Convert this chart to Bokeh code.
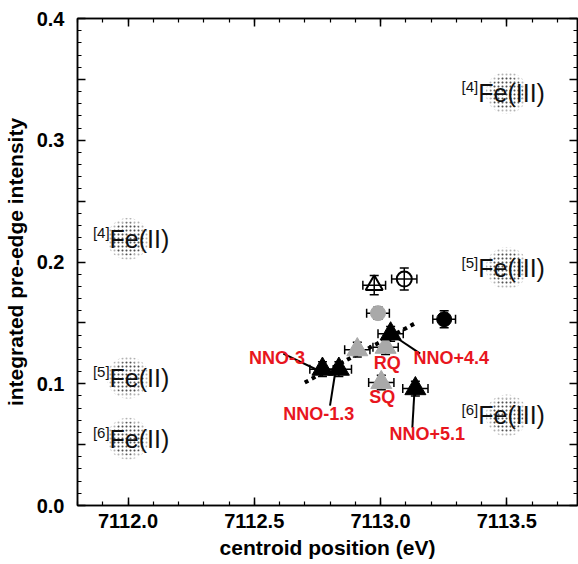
from bokeh.plotting import figure
from bokeh.models import (Range1d, LinearAxis, SingleIntervalTicker, Whisker,
                          ColumnDataSource, TeeHead, CustomJSTickFormatter)
from bokeh.core.properties import value
from bokeh.embed import file_html
from bokeh.resources import INLINE

# ---------------- data ----------------
# black filled triangles: oxidation series
tri_black_x = [7112.77, 7112.835, 7113.04, 7113.138]
tri_black_y = [0.112, 0.112, 0.141, 0.096]
tri_black_xerr = [0.05, 0.05, 0.05, 0.05]
tri_black_yerr = [0.006, 0.006, 0.006, 0.006]

# grey filled triangles
tri_gray_x = [7112.908, 7113.02, 7113.003]
tri_gray_y = [0.128, 0.130, 0.101]
tri_gray_xerr = [0.05, 0.05, 0.05]
tri_gray_yerr = [0.006, 0.006, 0.006]

# open triangle
tri_open_x = [7112.975]
tri_open_y = [0.181]
tri_open_xerr = [0.045]
tri_open_yerr = [0.008]

# open circle
circ_open_x = [7113.094]
circ_open_y = [0.186]
circ_open_xerr = [0.05]
circ_open_yerr = [0.009]

# grey circle
circ_gray_x = [7112.99]
circ_gray_y = [0.158]
circ_gray_xerr = [0.045]
circ_gray_yerr = [0.005]

# black circle
circ_black_x = [7113.252]
circ_black_y = [0.153]
circ_black_xerr = [0.045]
circ_black_yerr = [0.007]

# trend line through the oxidation series
trend_x = [7112.70, 7113.14]
trend_y = [0.101, 0.150]

# sample labels and leader lines
lab_text = ["NNO-3", "NNO-1.3", "RQ", "SQ", "NNO+4.4", "NNO+5.1"]
lab_x = [7112.59, 7112.755, 7113.027, 7113.007, 7113.28, 7113.185]
lab_y = [0.121, 0.0755, 0.117, 0.089, 0.121, 0.059]
lead_x0 = [7112.615, 7112.80, 7113.05, 7113.126]
lead_y0 = [0.1248, 0.0821, 0.1396, 0.064]
lead_x1 = [7112.754, 7112.82, 7113.157, 7113.134]
lead_y1 = [0.1109, 0.1084, 0.1248, 0.0928]

# reference Fe coordination / valence fields
ref_x = [7112.0, 7112.0, 7112.0, 7113.5, 7113.5, 7113.5]
ref_y = [0.219, 0.105, 0.055, 0.339, 0.195, 0.074]
ref_coord = ["[4]", "[5]", "[6]", "[4]", "[5]", "[6]"]
ref_name = ["Fe(II)", "Fe(II)", "Fe(II)", "Fe(III)", "Fe(III)", "Fe(III)"]
ref_text_x = [7111.927, 7111.927, 7111.927, 7113.387, 7113.387, 7113.387]

x_ticks_major = 0.5
y_ticks_major = 0.05

FONT = "Liberation Sans"
RED = "#e8161e"
GRAY = "#a9a9a9"

p = figure(width=578, height=564,
           x_range=Range1d(7111.8, 7113.78), y_range=Range1d(0.0, 0.4),
           output_backend="svg", toolbar_location=None,
           min_border_left=77, min_border_right=1, min_border_top=18,
           min_border_bottom=59)
p.background_fill_color = "white"
p.border_fill_color = "white"
p.outline_line_color = "black"
p.outline_line_width = 1.5
p.xgrid.visible = False
p.ygrid.visible = False


def style_axis(ax, labels=True):
    ax.axis_line_width = 1.5
    ax.major_tick_line_width = 1.5
    ax.minor_tick_line_width = 1.2
    ax.major_tick_in = 8
    ax.major_tick_out = 0
    ax.minor_tick_in = 4
    ax.minor_tick_out = 0
    ax.major_label_text_font = FONT
    ax.major_label_text_font_style = "bold"
    ax.major_label_text_color = "black"
    ax.major_label_text_font_size = "20px" if labels else "0px"


xt = SingleIntervalTicker(interval=x_ticks_major, num_minor_ticks=5)
yt = SingleIntervalTicker(interval=y_ticks_major, num_minor_ticks=5)
yfmt = CustomJSTickFormatter(code="""
const k = tick * 10;
return Math.abs(k - Math.round(k)) < 1e-6 ? tick.toFixed(1) : "";
""")
xfmt = CustomJSTickFormatter(code="return tick.toFixed(1);")
blank = CustomJSTickFormatter(code="return '';")

p.xaxis.ticker = xt
p.yaxis.ticker = yt
p.xaxis.formatter = xfmt
p.yaxis.formatter = yfmt
for ax in p.xaxis + p.yaxis:
    style_axis(ax)
p.xaxis.major_label_standoff = 8
p.yaxis.major_label_standoff = 13
p.xaxis.axis_label = "centroid position (eV)"
p.yaxis.axis_label = "integrated pre-edge intensity"
for ax in p.xaxis + p.yaxis:
    ax.axis_label_text_font = FONT
    ax.axis_label_text_font_style = "bold"
    ax.axis_label_text_font_size = "21px"
    ax.axis_label_text_color = "black"
p.xaxis.axis_label_standoff = 5
p.yaxis.axis_label_standoff = 7

top = LinearAxis(ticker=SingleIntervalTicker(interval=x_ticks_major, num_minor_ticks=5),
                 formatter=blank, major_label_standoff=0)
style_axis(top, labels=False)
p.add_layout(top, "above")
right = LinearAxis(ticker=SingleIntervalTicker(interval=y_ticks_major, num_minor_ticks=5),
                   formatter=blank, major_label_standoff=0)
style_axis(right, labels=False)
p.add_layout(right, "right")

# stippled reference fields (soft outer halo + denser core)
p.scatter(ref_x, ref_y, marker="circle", size=42, fill_alpha=0, line_alpha=0,
          hatch_pattern=".", hatch_scale=4, hatch_weight=1.2,
          hatch_color="black", hatch_alpha=0.3)
p.scatter(ref_x, ref_y, marker="circle", size=33, fill_alpha=0, line_alpha=0,
          hatch_pattern=".", hatch_scale=4, hatch_weight=1.2,
          hatch_color="black", hatch_alpha=0.55)
ref_src = ColumnDataSource(dict(x=ref_text_x, y=ref_y, coord=ref_coord, name=ref_name))
p.text("x", "y", text="name", source=ref_src, text_font=value(FONT),
       text_font_size="25px", text_align="left", text_baseline="middle",
       text_color="#111111")
p.text("x", "y", text="coord", source=ref_src, text_font=value(FONT),
       text_font_size="15px", text_align="right", text_baseline="middle",
       y_offset=-6, text_color="#111111")

# trend line
p.line(trend_x, trend_y, line_color="black", line_width=4, line_dash="4 4")


def errbars(xs, ys, xe, ye):
    src = ColumnDataSource(dict(
        x=xs, y=ys,
        xl=[a - b for a, b in zip(xs, xe)], xu=[a + b for a, b in zip(xs, xe)],
        yl=[a - b for a, b in zip(ys, ye)], yu=[a + b for a, b in zip(ys, ye)]))
    for dim, base, lo, hi in (("width", "y", "xl", "xu"), ("height", "x", "yl", "yu")):
        w = Whisker(source=src, base=base, lower=lo, upper=hi, dimension=dim,
                    line_color="black", line_width=1.5,
                    upper_head=TeeHead(size=9, line_width=1.5, line_color="black"),
                    lower_head=TeeHead(size=9, line_width=1.5, line_color="black"))
        p.add_layout(w)


errbars(tri_black_x, tri_black_y, tri_black_xerr, tri_black_yerr)
errbars(tri_gray_x, tri_gray_y, tri_gray_xerr, tri_gray_yerr)
errbars(tri_open_x, tri_open_y, tri_open_xerr, tri_open_yerr)
errbars(circ_open_x, circ_open_y, circ_open_xerr, circ_open_yerr)
errbars(circ_gray_x, circ_gray_y, circ_gray_xerr, circ_gray_yerr)
errbars(circ_black_x, circ_black_y, circ_black_xerr, circ_black_yerr)

p.scatter(tri_gray_x, tri_gray_y, marker="triangle", size=21,
          fill_color=GRAY, line_color=GRAY)
p.scatter(tri_black_x, tri_black_y, marker="triangle", size=21,
          fill_color="black", line_color="black")
p.scatter(tri_open_x, tri_open_y, marker="triangle", size=17,
          fill_alpha=0, line_color="black", line_width=2)
p.scatter(circ_open_x, circ_open_y, marker="circle", size=15,
          fill_alpha=0, line_color="black", line_width=2)
p.scatter(circ_gray_x, circ_gray_y, marker="circle", size=15,
          fill_color=GRAY, line_color=GRAY)
p.scatter(circ_black_x, circ_black_y, marker="circle", size=15,
          fill_color="black", line_color="black")

# leader lines and labels
p.segment(lead_x0, lead_y0, lead_x1, lead_y1, line_color="black", line_width=2)
p.text(lab_x, lab_y, text=lab_text, text_font=value(FONT), text_font_style="bold",
       text_font_size="18px", text_color=RED, text_align="center",
       text_baseline="middle")

open("out.html", "w").write(file_html(p, INLINE))
